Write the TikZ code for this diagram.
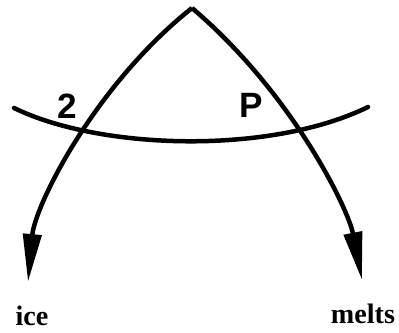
\documentclass[tikz,border=0pt]{standalone}
\usepackage{fontspec}
\setmainfont{Liberation Serif}
\newfontfamily\handfont{Liberation Sans}
\usetikzlibrary{arrows.meta}
\definecolor{ink}{RGB}{0,0,0}

\begin{document}
\begin{tikzpicture}[x=0.025cm, y=-0.025cm,
    curve/.style={draw=ink, line width=3.2pt, line join=miter},
    flow/.style={curve, -{Triangle[length=1.2cm, width=0.45cm]}},
    mark label/.style={font=\handfont\bfseries\fontsize{25}{25}\selectfont},
    end label/.style={font=\bfseries\fontsize{20}{20}\selectfont}]
  \useasboundingbox (0,0) rectangle (399,332);
  \coordinate (apex) at (192,8);
  \coordinate (tipL) at (28,282);
  \coordinate (tipR) at (362,280);
  \coordinate (lineL) at (14,108);
  \coordinate (lineR) at (368,107);
  % the two branches from the apex
  \draw[flow] (apex) .. controls (95,85) and (35,205) .. (tipL);
  \draw[flow] (apex) .. controls (292,93) and (348,208) .. (tipR);
  % cross curve
  \draw[curve, line cap=round] (lineL) .. controls (100,150) and (270,155) .. (lineR);
  \node[mark label] (two) at (67,106) {2};
  \node[mark label] (pee) at (251,105) {P};
  \node[end label] (ice) at (32,316) {ice};
  \node[end label] (melts) at (363,314) {melts};
\end{tikzpicture}
\end{document}
